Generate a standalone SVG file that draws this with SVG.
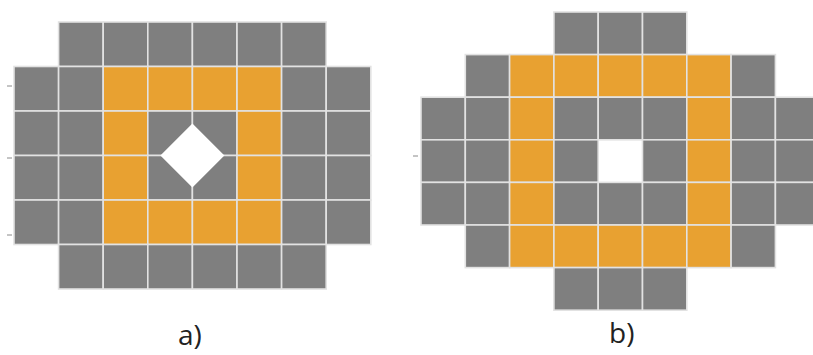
<svg xmlns="http://www.w3.org/2000/svg" width="813" height="355" viewBox="0 0 813 355">
<style>
.g{fill:#7f7f7f}
.o{fill:#e8a131}
rect.c{stroke:#e2e2e2;stroke-width:1.6}
.lbl{font-family:"Open Sans","Liberation Sans",sans-serif;font-size:28px;fill:#222}
.tick{stroke:#8a8a8a;stroke-width:1}
</style>
<rect width="813" height="355" fill="#ffffff"/>
<g id="panel-a">
<defs>
<rect id="ca" class="c" width="44.6" height="44.5"/>
</defs>
<!-- row 0 -->
<use href="#ca" class="g" x="58.6" y="22"/><use href="#ca" class="g" x="103.2" y="22"/><use href="#ca" class="g" x="147.8" y="22"/><use href="#ca" class="g" x="192.4" y="22"/><use href="#ca" class="g" x="237" y="22"/><use href="#ca" class="g" x="281.6" y="22"/>
<!-- row 1 -->
<use href="#ca" class="g" x="14" y="66.5"/><use href="#ca" class="g" x="58.6" y="66.5"/><use href="#ca" class="o" x="103.2" y="66.5"/><use href="#ca" class="o" x="147.8" y="66.5"/><use href="#ca" class="o" x="192.4" y="66.5"/><use href="#ca" class="o" x="237" y="66.5"/><use href="#ca" class="g" x="281.6" y="66.5"/><use href="#ca" class="g" x="326.2" y="66.5"/>
<!-- row 2 -->
<use href="#ca" class="g" x="14" y="111"/><use href="#ca" class="g" x="58.6" y="111"/><use href="#ca" class="o" x="103.2" y="111"/><use href="#ca" class="g" x="147.8" y="111"/><use href="#ca" class="g" x="192.4" y="111"/><use href="#ca" class="o" x="237" y="111"/><use href="#ca" class="g" x="281.6" y="111"/><use href="#ca" class="g" x="326.2" y="111"/>
<!-- row 3 -->
<use href="#ca" class="g" x="14" y="155.5"/><use href="#ca" class="g" x="58.6" y="155.5"/><use href="#ca" class="o" x="103.2" y="155.5"/><use href="#ca" class="g" x="147.8" y="155.5"/><use href="#ca" class="g" x="192.4" y="155.5"/><use href="#ca" class="o" x="237" y="155.5"/><use href="#ca" class="g" x="281.6" y="155.5"/><use href="#ca" class="g" x="326.2" y="155.5"/>
<!-- row 4 -->
<use href="#ca" class="g" x="14" y="200"/><use href="#ca" class="g" x="58.6" y="200"/><use href="#ca" class="o" x="103.2" y="200"/><use href="#ca" class="o" x="147.8" y="200"/><use href="#ca" class="o" x="192.4" y="200"/><use href="#ca" class="o" x="237" y="200"/><use href="#ca" class="g" x="281.6" y="200"/><use href="#ca" class="g" x="326.2" y="200"/>
<!-- row 5 -->
<use href="#ca" class="g" x="58.6" y="244.5"/><use href="#ca" class="g" x="103.2" y="244.5"/><use href="#ca" class="g" x="147.8" y="244.5"/><use href="#ca" class="g" x="192.4" y="244.5"/><use href="#ca" class="g" x="237" y="244.5"/><use href="#ca" class="g" x="281.6" y="244.5"/>
<polygon points="192.4,123.5 224.4,155.5 192.4,187.5 160.4,155.5" fill="#ffffff"/>
<line class="tick" x1="7" y1="86" x2="12" y2="86"/>
<line class="tick" x1="7" y1="158" x2="12" y2="158"/>
<line class="tick" x1="7" y1="235" x2="12" y2="235"/>
<text class="lbl" x="178" y="345">a)</text>
</g>
<g id="panel-b">
<defs>
<rect id="cb" class="c" width="44.3" height="42.6"/>
</defs>
<!-- row 0 -->
<use href="#cb" class="g" x="553.9" y="12"/><use href="#cb" class="g" x="598.2" y="12"/><use href="#cb" class="g" x="642.5" y="12"/>
<!-- row 1 -->
<use href="#cb" class="g" x="465.3" y="54.6"/><use href="#cb" class="o" x="509.6" y="54.6"/><use href="#cb" class="o" x="553.9" y="54.6"/><use href="#cb" class="o" x="598.2" y="54.6"/><use href="#cb" class="o" x="642.5" y="54.6"/><use href="#cb" class="o" x="686.8" y="54.6"/><use href="#cb" class="g" x="731.1" y="54.6"/>
<!-- row 2 -->
<use href="#cb" class="g" x="421" y="97.2"/><use href="#cb" class="g" x="465.3" y="97.2"/><use href="#cb" class="o" x="509.6" y="97.2"/><use href="#cb" class="g" x="553.9" y="97.2"/><use href="#cb" class="g" x="598.2" y="97.2"/><use href="#cb" class="g" x="642.5" y="97.2"/><use href="#cb" class="o" x="686.8" y="97.2"/><use href="#cb" class="g" x="731.1" y="97.2"/><use href="#cb" class="g" x="775.4" y="97.2"/>
<!-- row 3 -->
<use href="#cb" class="g" x="421" y="139.8"/><use href="#cb" class="g" x="465.3" y="139.8"/><use href="#cb" class="o" x="509.6" y="139.8"/><use href="#cb" class="g" x="553.9" y="139.8"/><use href="#cb" class="g" x="642.5" y="139.8"/><use href="#cb" class="o" x="686.8" y="139.8"/><use href="#cb" class="g" x="731.1" y="139.8"/><use href="#cb" class="g" x="775.4" y="139.8"/>
<!-- row 4 -->
<use href="#cb" class="g" x="421" y="182.4"/><use href="#cb" class="g" x="465.3" y="182.4"/><use href="#cb" class="o" x="509.6" y="182.4"/><use href="#cb" class="g" x="553.9" y="182.4"/><use href="#cb" class="g" x="598.2" y="182.4"/><use href="#cb" class="g" x="642.5" y="182.4"/><use href="#cb" class="o" x="686.8" y="182.4"/><use href="#cb" class="g" x="731.1" y="182.4"/><use href="#cb" class="g" x="775.4" y="182.4"/>
<!-- row 5 -->
<use href="#cb" class="g" x="465.3" y="225"/><use href="#cb" class="o" x="509.6" y="225"/><use href="#cb" class="o" x="553.9" y="225"/><use href="#cb" class="o" x="598.2" y="225"/><use href="#cb" class="o" x="642.5" y="225"/><use href="#cb" class="o" x="686.8" y="225"/><use href="#cb" class="g" x="731.1" y="225"/>
<!-- row 6 -->
<use href="#cb" class="g" x="553.9" y="267.6"/><use href="#cb" class="g" x="598.2" y="267.6"/><use href="#cb" class="g" x="642.5" y="267.6"/>
<line class="tick" x1="413" y1="156" x2="418" y2="156"/>
<text class="lbl" x="609" y="343">b)</text>
</g>
</svg>
